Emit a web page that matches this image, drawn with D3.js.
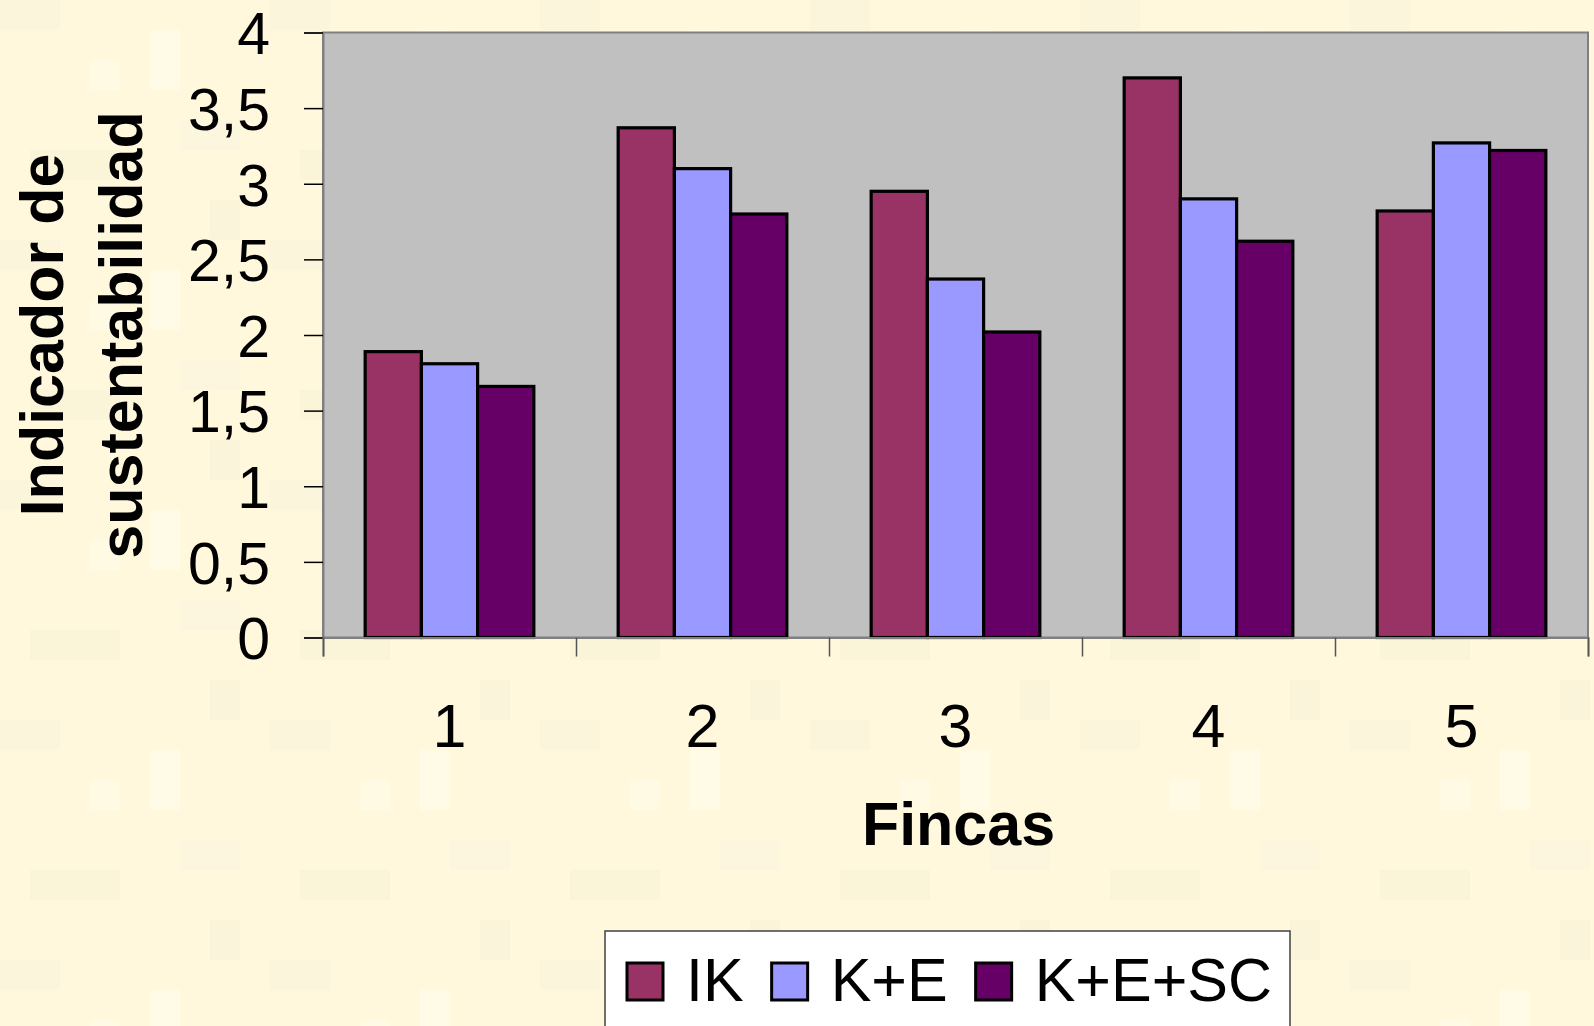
<!DOCTYPE html>
<html>
<head>
<meta charset="utf-8">
<script src="https://cdn.jsdelivr.net/npm/d3@7/dist/d3.min.js"></script>
<style>
  html, body { margin: 0; padding: 0; background: #FFF8DC; }
  svg { display: block; }
  text { font-family: "Liberation Sans", Arial, sans-serif; fill: #000; }
</style>
</head>
<body>
<svg id="chart" width="1594" height="1026"></svg>
<script>
// Sustainability indicator per farm
const fincas = ["1", "2", "3", "4", "5"];
const series = ["IK", "K+E", "K+E+SC"];
const colors = ["#993366", "#9999FF", "#660066"];
const valuesIK = [1.89, 3.37, 2.95, 3.70, 2.82];
const valuesKE = [1.81, 3.10, 2.37, 2.90, 3.27];
const valuesKESC = [1.66, 2.80, 2.02, 2.62, 3.22];
const yTicks = [0, 0.5, 1, 1.5, 2, 2.5, 3, 3.5, 4];

const seriesValues = [valuesIK, valuesKE, valuesKESC];

const svg = d3.select("#chart");
const W = 1594, H = 1026;

// faint blocky paper texture
const defs = svg.append("defs");
const pat = defs.append("pattern")
  .attr("id", "paper").attr("patternUnits", "userSpaceOnUse")
  .attr("width", 270).attr("height", 240);
pat.append("rect").attr("width", 270).attr("height", 240).attr("fill", "#FFF8DC");
[[0, 0, 60, 30, "#FBF5DB"], [150, 30, 30, 60, "#FFFBE6"], [30, 150, 90, 30, "#FAF4D9"],
 [180, 120, 60, 30, "#FCF6DE"], [90, 60, 30, 30, "#FFFAE4"], [210, 200, 30, 40, "#FAF4DA"]]
  .forEach(([px, py, w, h, c]) => pat.append("rect").attr("x", px).attr("y", py)
    .attr("width", w).attr("height", h).attr("fill", c));
svg.append("rect").attr("width", W).attr("height", H).attr("fill", "url(#paper)");

const plot = { left: 323, right: 1588, top: 32.5, bottom: 637.5 };

const y = d3.scaleLinear().domain([0, 4]).range([plot.bottom, plot.top]);
const x = d3.scaleBand().domain(fincas).range([plot.left, plot.right])
  .paddingInner(1 / 3).paddingOuter(1 / 6);
const xs = d3.scaleBand().domain(series).range([0, x.bandwidth()]);

// plot area
svg.append("rect")
  .attr("x", plot.left).attr("y", plot.top)
  .attr("width", plot.right - plot.left).attr("height", plot.bottom - plot.top)
  .attr("fill", "#C0C0C0").attr("stroke", "#808080").attr("stroke-width", 2);

// bars
const g = svg.append("g");
fincas.forEach((f, i) => {
  series.forEach((s, j) => {
    const v = seriesValues[j][i];
    g.append("rect")
      .attr("x", x(f) + xs(s))
      .attr("y", y(v))
      .attr("width", xs.bandwidth())
      .attr("height", y(0) - y(v))
      .attr("fill", colors[j])
      .attr("stroke", "#000").attr("stroke-width", 3.2);
  });
});

// y axis
const fmt = d => String(d).replace(".", ",");
const yAxis = svg.append("g")
  .attr("transform", `translate(${plot.left},0)`)
  .call(d3.axisLeft(y).tickValues(yTicks).tickFormat(fmt).tickSize(19).tickPadding(34));
yAxis.select(".domain").attr("stroke", "#808080").attr("stroke-width", 2);
yAxis.selectAll(".tick line").attr("stroke", "#000").attr("stroke-width", 1.5);
yAxis.selectAll(".tick text")
  .style("font-size", "59px").attr("fill", "#000").attr("dy", "0.36em");

// x axis: boundary ticks between farms, labels at centres
const xb = d3.scaleLinear().domain([0, fincas.length]).range([plot.left, plot.right]);
const xAxis = svg.append("g")
  .attr("transform", `translate(0,${plot.bottom})`)
  .call(d3.axisBottom(xb).ticks(fincas.length).tickFormat("").tickSize(19));
xAxis.select(".domain").attr("stroke", "#808080").attr("stroke-width", 2);
xAxis.selectAll(".tick line").attr("stroke", "#555").attr("stroke-width", 1.5);

svg.append("g").selectAll("text").data(fincas).join("text")
  .attr("x", d => x(d) + x.bandwidth() / 2)
  .attr("y", 747)
  .attr("text-anchor", "middle")
  .style("font-size", "61px")
  .text(d => d);

// axis titles
svg.append("text")
  .attr("x", (plot.left + plot.right) / 2 + 3).attr("y", 845)
  .attr("text-anchor", "middle")
  .style("font-size", "61px").style("font-weight", "bold")
  .text("Fincas");

const yt = svg.append("text")
  .attr("transform", `translate(0,${(plot.top + plot.bottom) / 2}) rotate(-90)`)
  .attr("text-anchor", "middle")
  .style("font-size", "61px").style("font-weight", "bold");
yt.append("tspan").attr("x", 0).attr("y", 63).text("Indicador de");
yt.append("tspan").attr("x", 0).attr("y", 142).text("sustentabilidad");

// legend
const lg = svg.append("g");
lg.append("rect")
  .attr("x", 605).attr("y", 931).attr("width", 685).attr("height", 130)
  .attr("fill", "#FFFFFF").attr("stroke", "#404040").attr("stroke-width", 1.5);
let lx = 627;
series.forEach((s, j) => {
  lg.append("rect")
    .attr("x", lx).attr("y", 963).attr("width", 36).attr("height", 37)
    .attr("fill", colors[j]).attr("stroke", "#000").attr("stroke-width", 3);
  const t = lg.append("text")
    .attr("x", lx + 59).attr("y", 1001)
    .style("font-size", "61px").text(s);
  lx += 59 + t.node().getComputedTextLength() + 28;
});
</script>
</body>
</html>
